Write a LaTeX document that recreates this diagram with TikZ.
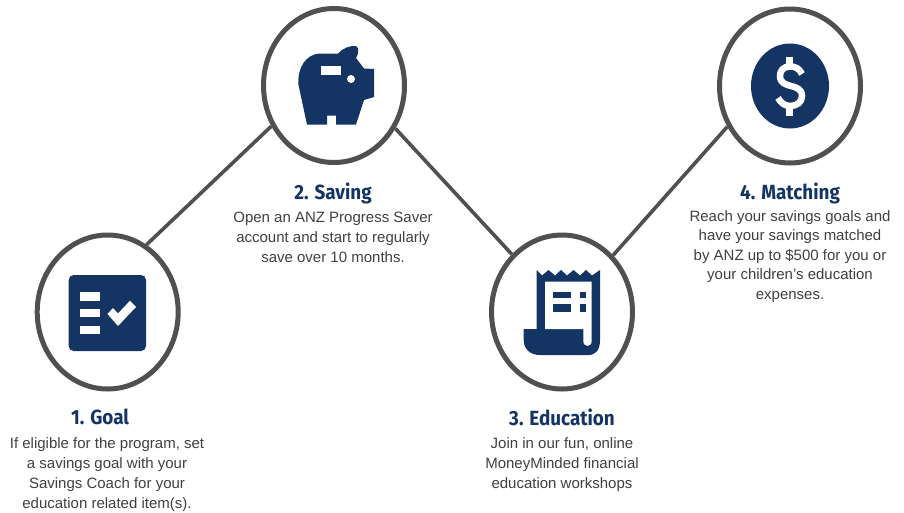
\documentclass[tikz,border=0pt]{standalone}
\usepackage{fontspec}
\setmainfont{Liberation Sans}
\newfontfamily\headfont[FakeStretch=0.92]{Fira Sans}
\usetikzlibrary{shapes.geometric}
\definecolor{navy}{HTML}{143564}
\definecolor{ring}{HTML}{505050}
\definecolor{bodytext}{HTML}{404040}
\tikzset{
  x=1pt,y=-1pt,
  ringnode/.style={ellipse,draw=ring,line width=5pt,fill=white,minimum width=141pt,minimum height=154pt,inner sep=0pt},
  link/.style={draw=ring,line width=3.6pt},
  heading/.style={font=\headfont\bfseries\fontsize{20.5}{24}\selectfont,text=navy,anchor=center,inner sep=0pt},
  body/.style={font=\fontsize{15}{20}\selectfont,text=bodytext,align=center,anchor=north,inner sep=0pt},
  icon/.style={fill=navy,draw=none},
  knock/.style={fill=white,draw=none}
}
\begin{document}
\begin{tikzpicture}
\useasboundingbox (0,0) rectangle (904,512);
\fill[white] (0,0) rectangle (904,512);
\node[ringnode] (goal) at (107.7,312) {};
\node[ringnode] (saving) at (334,85.5) {};
\node[ringnode] (education) at (562,312) {};
\node[ringnode] (matching) at (790,86) {};
\draw[link] (goal.60) -- (saving.213);
\draw[link] (saving.-35) -- (education.131);
\draw[link] (education.48) -- (matching.213);
% goal icon
\fill[icon,rounded corners=5pt] (68.7,275) rectangle (146,351);
\fill[knock] (80,291.7) rectangle (100,300.7);
\fill[knock] (80,308.7) rectangle (100,317.3);
\fill[knock] (80,325.7) rectangle (100,334.3);
\fill[knock] (107.5,314) -- (113,308) -- (118,313.5) -- (130,300.7) -- (136,307) -- (118,326) -- cycle;
% piggy icon
\fill[icon] (307,124.5) -- (298.5,85) .. controls (297,68) and (306,54) .. (320,53.5)
  -- (338,53.5) .. controls (343,48) and (350,45.5) .. (356,46) .. controls (359,47) and (359,54) .. (356,58)
  -- (364,68.5) -- (374,69) -- (374,97) -- (364,100) -- (356,124.5) -- (336,124.5) -- (336,115.5) -- (327,115.5) -- (327,124.5) -- cycle;
\fill[knock] (321,66) rectangle (341,75);
\fill[knock] (351,79) circle[radius=4];
% receipt icon
\fill[icon] (536.7,270) -- (542,275.5) -- (548.5,270) -- (555,275.5) -- (561,270) -- (567,275.5) -- (573.5,270) -- (580,275.5) -- (586,270) -- (592,275.5) -- (600,270)
  -- (600,340) .. controls (600,350) and (596,355) .. (588,355) -- (540,355) .. controls (530,355) and (523.7,349) .. (523.7,340) -- (523.7,329) -- (536.7,329) -- cycle;
\fill[knock] (545,281.7) -- (591.7,281.7) -- (591.7,341) .. controls (591.7,347.5) and (583.3,347.5) .. (583.3,341) -- (583.3,329) -- (545,329) -- cycle;
\fill[icon] (552.7,291.7) rectangle (571,298.3);
\fill[icon] (580,291.7) rectangle (586,298.3);
\fill[icon] (552.7,304) rectangle (571,312.3);
\fill[icon] (580,304) rectangle (586,312.3);
% dollar icon
\fill[icon] (790,86) ellipse[x radius=39,y radius=42.5];
\draw[white,line width=6.5pt] (802,74) .. controls (799,68) and (795,66.5) .. (790,66.5) .. controls (783,66.5) and (780,71) .. (780,76) .. controls (780,90) and (802,82) .. (802,96) .. controls (802,102) and (797,106) .. (790,106) .. controls (785,106) and (781,103) .. (778,98);
\fill[knock] (786.4,56.5) rectangle (793.4,68);
\fill[knock] (786.4,104) rectangle (793.4,116);
% labels
\node[heading] (t1) at (100,417) {1. Goal};
\node[body] (b1) at (107,437) {If eligible for the program, set\\a savings goal with your\\Savings Coach for your\\education related item(s).};
\node[heading] (t2) at (333,193) {2. Saving};
\node[body] (b2) at (333,212) {Open an ANZ Progress Saver\\account and start to regularly\\save over 10 months.};
\node[heading] (t3) at (562,417) {3. Education};
\node[body] (b3) at (562,437) {Join in our fun, online\\MoneyMinded financial\\education workshops};
\node[heading] (t4) at (790,193) {4. Matching};
\node[body,font=\fontsize{15}{19.6}\selectfont] (b4) at (790,210) {Reach your savings goals and\\have your savings matched\\by ANZ up to \$500 for you or\\your children’s education\\expenses.};
\end{tikzpicture}
\end{document}
